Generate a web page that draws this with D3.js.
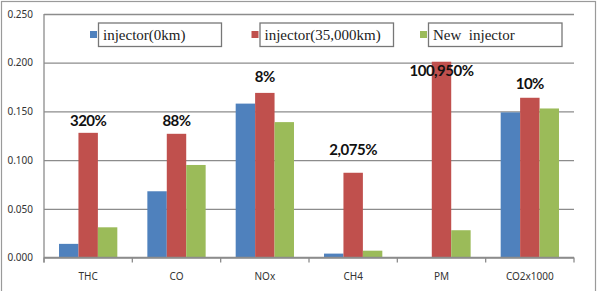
<!DOCTYPE html>
<html>
<head>
<meta charset="utf-8">
<script src="https://cdn.jsdelivr.net/npm/d3@7"></script>
<style>
body { margin: 0; background: #fff; }
</style>
</head>
<body>
<svg class="chart" width="602" height="291"></svg>
<script>
var categories = ["THC", "CO", "NOx", "CH4", "PM", "CO2x1000"];
var seriesNames = ["injector(0km)", "injector(35,000km)", "New  injector"];
var inj0 = [0.014, 0.068, 0.158, 0.004, 0.0003, 0.149];
var inj35 = [0.128, 0.127, 0.169, 0.087, 0.201, 0.164];
var injNew = [0.031, 0.095, 0.139, 0.007, 0.028, 0.153];
var notes = ["320%", "88%", "8%", "2,075%", "100,950%", "10%"];
var noteValues = [0.135, 0.135, 0.180, 0.105, 0.186, 0.173];
var yTicks = [0, 0.05, 0.1, 0.15, 0.2, 0.25];
var colors = ["#4f81bd", "#c0504d", "#9bbb59"];

var svg = d3.select(".chart"),
    margin = {top: 14, right: 28, bottom: 33.5, left: 44},
    width = +svg.attr("width") - margin.left - margin.right,
    height = +svg.attr("height") - margin.top - margin.bottom;

// outer frame
svg.append("rect")
    .attr("x", 1.5).attr("y", 1.5)
    .attr("width", 594).attr("height", 300)
    .attr("fill", "none")
    .attr("stroke", "#9a9a9a")
    .attr("stroke-width", 1.2);

var g = svg.append("g").attr("transform", "translate(" + margin.left + "," + margin.top + ")");

var x = d3.scaleBand()
    .domain(categories)
    .range([0, width])
    .paddingInner(0.34)
    .paddingOuter(0.17);

var x1 = d3.scaleBand()
    .domain(d3.range(3))
    .range([0, x.bandwidth()]);

var y = d3.scaleLinear()
    .domain([0, 0.25])
    .range([height, 0]);

// gridlines
g.append("g")
    .call(d3.axisLeft(y).tickValues(yTicks).tickSize(-width).tickFormat(d3.format(".3f")))
    .call(function(a) {
      a.select(".domain").remove();
      a.selectAll(".tick line").attr("stroke", "#8c8c8c").attr("stroke-width", 1.3);
      a.selectAll(".tick text")
          .attr("x", -11)
          .attr("fill", "#333")
          .style("font-family", "'Noto Sans', sans-serif")
          .style("font-size", "10px");
    });

// bars
var series = [inj0, inj35, injNew];
var groups = g.selectAll(".grp")
  .data(categories)
  .enter().append("g")
    .attr("transform", function(d) { return "translate(" + x(d) + ",0)"; });

groups.selectAll("rect")
  .data(function(d, i) { return series.map(function(s, k) { return {k: k, v: s[i]}; }); })
  .enter().append("rect")
    .attr("x", function(d) { return x1(d.k); })
    .attr("y", function(d) { return y(d.v); })
    .attr("width", x1.bandwidth())
    .attr("height", function(d) { return height - y(d.v); })
    .attr("fill", function(d) { return colors[d.k]; });

// x axis
var step = width / categories.length;
g.append("line")
    .attr("x1", 0).attr("x2", width)
    .attr("y1", height).attr("y2", height)
    .attr("stroke", "#8c8c8c").attr("stroke-width", 1.3);
g.selectAll(".xt")
  .data(d3.range(categories.length + 1))
  .enter().append("line")
    .attr("x1", function(d) { return d * step; })
    .attr("x2", function(d) { return d * step; })
    .attr("y1", height).attr("y2", height + 5)
    .attr("stroke", "#8c8c8c").attr("stroke-width", 1.3);
g.append("line")
    .attr("x1", 0).attr("x2", 0)
    .attr("y1", 0).attr("y2", height + 5)
    .attr("stroke", "#8c8c8c").attr("stroke-width", 1.3);
g.selectAll(".xl")
  .data(categories)
  .enter().append("text")
    .attr("x", function(d) { return x(d) + x.bandwidth() / 2; })
    .attr("y", height + 22)
    .attr("text-anchor", "middle")
    .attr("fill", "#333")
    .style("font-family", "'Noto Sans', sans-serif")
    .style("font-size", "10px")
    .text(function(d) { return d; });

// change annotations
g.selectAll(".note")
  .data(categories)
  .enter().append("text")
    .attr("x", function(d) { return x(d) + x.bandwidth() / 2; })
    .attr("y", function(d, i) { return y(noteValues[i]); })
    .attr("text-anchor", "middle")
    .attr("fill", "#111")
    .style("font-family", "Lato, sans-serif")
    .style("font-weight", "bold")
    .style("font-size", "15px")
    .style("letter-spacing", "-0.5px")
    .text(function(d, i) { return notes[i]; });

// legend
var legendX = [46, 207.5, 376];
var boxW = [123, 133.5, 133.5];
var legend = g.selectAll(".leg")
  .data(seriesNames)
  .enter().append("g")
    .attr("transform", function(d, i) { return "translate(" + legendX[i] + ",8.5)"; });
legend.append("rect")
    .attr("x", 0).attr("y", 8.5)
    .attr("width", 7).attr("height", 7)
    .attr("fill", function(d, i) { return colors[i]; });
legend.append("rect")
    .attr("x", 8.5).attr("y", 0.5)
    .attr("width", function(d, i) { return boxW[i]; })
    .attr("height", 23.5)
    .attr("fill", "#fff")
    .attr("stroke", "#777")
    .attr("stroke-width", 1.3);
legend.append("text")
    .attr("x", 13).attr("y", 17)
    .attr("fill", "#222")
    .style("font-family", "'Liberation Serif', serif")
    .style("font-size", "15px")
    .style("white-space", "pre")
    .text(function(d) { return d; });
</script>
</body>
</html>
